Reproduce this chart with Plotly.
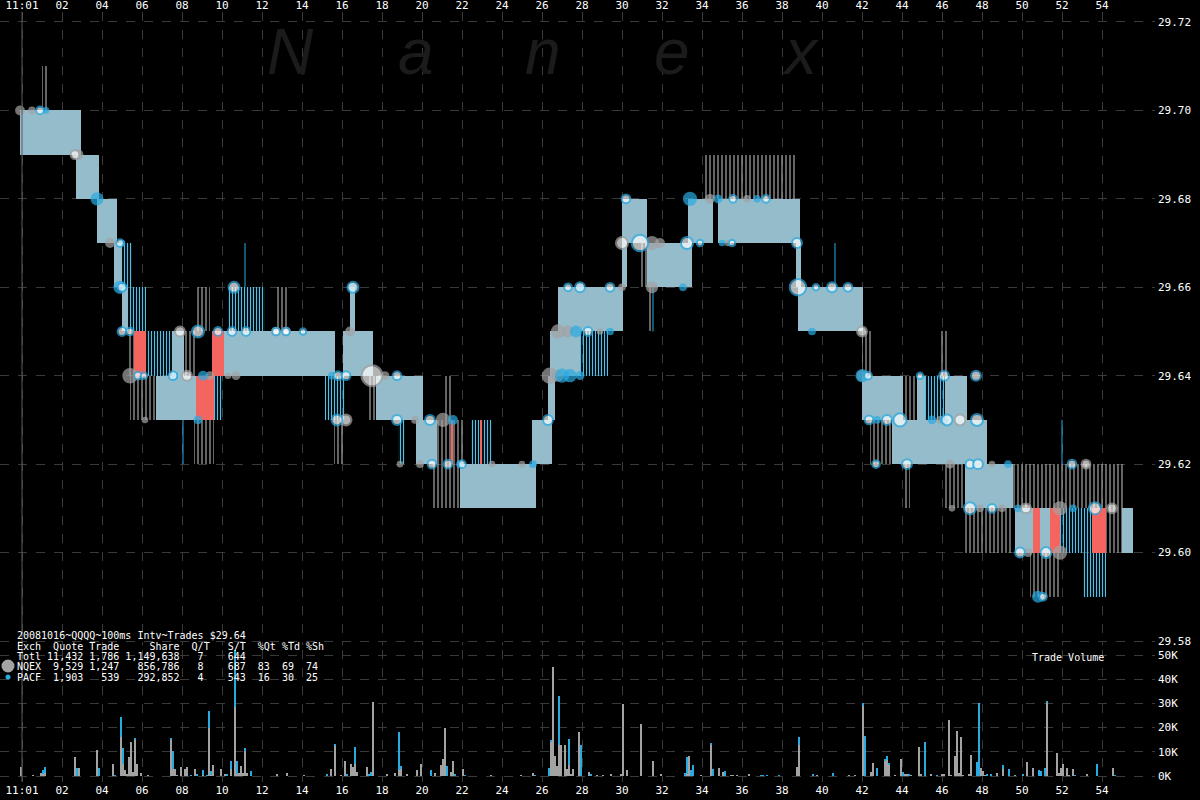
import plotly.graph_objects as go

# ---------------- axis ticks ----------------
time_ticks = list(range(0, 56, 2))
time_tick_text = ["11:01"] + [f"{v:02d}" for v in range(2, 56, 2)]
price_ticks = [29.58, 29.60, 29.62, 29.64, 29.66, 29.68, 29.70, 29.72]
volume_ticks = [0, 10, 20, 30, 40, 50]
volume_tick_text = ["0K", "10K", "20K", "30K", "40K", "50K"]

# ---------------- quote bands (minutes after 11:01, bid, kind) ----------------
band_start = [-0.1, 1.0, 2.7, 3.75, 4.6, 5.0, 5.0, 5.3, 5.3, 5.6, 6.2, 7.5, 8.1, 5.4, 6.7, 8.7, 9.6, 8.6, 8.7, 9.5,
              10.1, 10.3, 11.55, 12.7, 15.15, 15.6, 16.05, 16.4, 17.25, 17.7, 18.8, 19.7, 20.75, 21.1, 21.45, 22.45,
              22.9, 20.55, 21.9, 25.5, 26.3, 26.4, 27.9, 26.8, 30.0, 30.0, 30.9, 31.25, 31.25, 33.3, 34.15, 34.8,
              38.7, 38.8, 42.0, 42.0, 44.05, 44.75, 45.15, 45.9, 46.15, 42.4, 43.5, 44.05, 46.05, 46.05, 47.15,
              47.15, 49.55, 49.65, 50.55, 50.9, 51.4, 51.9, 53.5, 54.2, 55.0, 50.4, 53.05]
band_end = [2.95, 1.3, 3.85, 4.75, 5.0, 5.5, 5.3, 6.2, 5.6, 6.2, 7.5, 8.1, 8.7, 6.7, 8.7, 9.6, 10.05, 9.6, 9.4, 10.1,
            11.55, 12.15, 15.65, 13.25, 16.15, 16.15, 17.55, 16.65, 17.7, 20.05, 19.15, 20.75, 22.05, 21.5, 21.55,
            23.5, 23.0, 21.9, 25.7, 26.5, 26.65, 27.9, 29.3, 30.05, 30.25, 31.25, 31.25, 33.5, 31.55, 34.55, 38.75,
            38.9, 38.95, 42.05, 42.45, 44.05, 44.75, 45.15, 46.15, 46.3, 47.25, 43.5, 46.05, 44.4, 48.25, 47.15,
            49.55, 49.55, 55.05, 50.55, 50.9, 51.4, 51.9, 53.5, 54.2, 55.0, 55.55, 51.85, 54.2]
band_bid = [29.69, 29.70, 29.68, 29.67, 29.66, 29.66, 29.65, 29.65, 29.64, 29.64, 29.64, 29.64, 29.64, 29.63, 29.63,
            29.63, 29.63, 29.62, 29.65, 29.64, 29.64, 29.65, 29.64, 29.65, 29.63, 29.62, 29.64, 29.65, 29.63, 29.63,
            29.62, 29.62, 29.62, 29.63, 29.62, 29.62, 29.62, 29.61, 29.61, 29.62, 29.63, 29.64, 29.64, 29.65, 29.66,
            29.67, 29.66, 29.66, 29.65, 29.67, 29.68, 29.67, 29.66, 29.65, 29.64, 29.63, 29.63, 29.63, 29.63, 29.64,
            29.63, 29.62, 29.62, 29.61, 29.62, 29.61, 29.61, 29.60, 29.61, 29.60, 29.60, 29.60, 29.60, 29.60, 29.60,
            29.60, 29.60, 29.59, 29.59]
band_kind = ["d", "s", "d", "d", "d", "b", "d", "b", "s", "r", "b", "d", "s", "s", "d", "r", "b", "s", "s", "r",
             "d", "b", "d", "s", "b", "s", "d", "d", "s", "d", "b", "d", "s", "s", "r", "b", "r", "s", "d", "d",
             "d", "d", "b", "d", "d", "d", "s", "d", "s", "d", "s", "d", "d", "d", "s", "d", "s", "d", "b", "s",
             "d", "s", "d", "s", "d", "s", "d", "s", "s", "d", "r", "d", "r", "b", "r", "s", "d", "s", "b"]
tick_size = 0.01
band_ask = [round(b + tick_size, 2) for b in band_bid]

# single quote lines reaching an extra tick
spike_t = [8.05, 11.15, 31.55, 40.65, 52.0]
spike_lo = [29.62, 29.66, 29.65, 29.66, 29.62]
spike_hi = [29.63, 29.67, 29.66, 29.67, 29.63]

# ---------------- trades (time, price, shares) ----------------
nqex_t = [-0.1, 0.5, 2.8, 4.4, 5.4, 6.15, 9.4, 10.3, 10.7, 16.4, 18.15, 19.65, 21.05, 18.9, 19.9, 23.5, 25.0, 26.4,
          26.8, 26.8, 27.3, 28.9, 30.0, 31.5, 31.5, 31.9, 34.4, 36.25, 42.0, 45.9, 46.4, 48.5, 46.5, 47.9, 49.0,
          51.9, 50.3, 51.9, 35.3]
nqex_p = [29.70, 29.70, 29.69, 29.67, 29.64, 29.63, 29.64, 29.64, 29.64, 29.65, 29.64, 29.63, 29.63, 29.62, 29.62,
          29.62, 29.62, 29.64, 29.64, 29.65, 29.65, 29.65, 29.66, 29.66, 29.67, 29.67, 29.68, 29.68, 29.64, 29.63,
          29.62, 29.62, 29.61, 29.61, 29.61, 29.61, 29.60, 29.60, 29.67]
nqex_sh = [1600, 400, 2500, 1600, 8100, 100, 900, 100, 900, 1600, 900, 400, 6400, 100, 400, 100, 100, 10000, 3600,
           6400, 3600, 100, 400, 3600, 6400, 1600, 1600, 400, 2500, 400, 900, 100, 100, 400, 400, 6400, 900, 6400,
           100]

pacf_t = [1.2, 3.75, 4.9, 5.0, 9.05, 8.8, 7.6, 15.5, 16.5, 21.55, 21.9, 25.55, 27.0, 27.4, 27.9, 27.7, 29.4, 27.9,
          33.05, 33.4, 34.8, 36.75, 39.5, 42.0, 42.75, 45.5, 46.1, 49.3, 49.8, 52.55, 50.8, 35.0]
pacf_p = [29.70, 29.68, 29.66, 29.67, 29.64, 29.63, 29.64, 29.64, 29.66, 29.63, 29.62, 29.62, 29.64, 29.64, 29.64,
          29.65, 29.65, 29.66, 29.66, 29.68, 29.68, 29.68, 29.65, 29.64, 29.63, 29.63, 29.63, 29.62, 29.61, 29.61,
          29.59, 29.67]
pacf_sh = [100, 4900, 4900, 100, 1600, 900, 400, 400, 900, 1600, 400, 400, 6400, 4900, 900, 3600, 400, 400, 400,
           6400, 900, 400, 400, 4900, 400, 900, 900, 400, 400, 400, 3600, 100]

ringb_t = [0.9, 4.9, 5.0, 5.0, 5.4, 5.8, 6.1, 7.55, 8.8, 9.8, 10.5, 11.2, 12.7, 13.2, 14.05, 10.6, 15.8, 16.2,
           15.75, 16.55, 18.75, 18.75, 20.4, 20.5, 21.3, 22.0, 26.3, 28.3, 27.3, 27.9, 29.4, 30.9, 33.25, 33.9,
           35.5, 30.2, 35.55, 37.2, 38.75, 38.8, 39.7, 40.5, 41.3, 42.3, 44.9, 46.1, 47.7, 42.35, 43.25, 43.9,
           46.25, 47.75, 42.7, 44.25, 47.4, 47.8, 52.5, 47.4, 48.5, 53.65, 49.9, 51.2, 51.05]
ringb_p = [29.70, 29.67, 29.66, 29.65, 29.65, 29.64, 29.64, 29.64, 29.65, 29.65, 29.65, 29.65, 29.65, 29.65, 29.65,
           29.66, 29.64, 29.64, 29.63, 29.66, 29.64, 29.63, 29.63, 29.62, 29.62, 29.62, 29.63, 29.65, 29.66, 29.66,
           29.66, 29.67, 29.67, 29.67, 29.67, 29.68, 29.68, 29.68, 29.67, 29.66, 29.66, 29.66, 29.66, 29.64, 29.64,
           29.64, 29.64, 29.63, 29.63, 29.63, 29.63, 29.63, 29.62, 29.62, 29.62, 29.62, 29.62, 29.61, 29.61, 29.61,
           29.60, 29.60, 29.59]
ringb_sh = [400, 400, 900, 900, 400, 400, 100, 900, 3600, 900, 900, 900, 400, 400, 100, 2500, 900, 900, 2500, 2500,
            900, 1600, 1600, 900, 900, 400, 1600, 900, 400, 1600, 900, 10000, 3600, 100, 100, 900, 400, 400, 1600,
            10000, 100, 1600, 900, 400, 100, 1600, 1600, 900, 1600, 4900, 2500, 3600, 400, 1600, 900, 1600, 900,
            3600, 900, 3600, 1600, 2500, 400]

ringg_t = [2.65, 7.9, 8.25, 17.5, 42.0, 46.9, 16.2, 30.0, 50.2, 54.5, 53.2, 12.7, 13.2]
ringg_p = [29.69, 29.65, 29.64, 29.64, 29.65, 29.63, 29.63, 29.67, 29.61, 29.61, 29.62, 29.65, 29.65]
ringg_sh = [900, 1600, 1600, 19600, 1600, 2500, 2500, 3600, 1600, 1600, 900, 400, 400]

# ---------------- volume per 100ms interval (thousand shares) ----------------
vol_t = [-0.05, 0.55, 0.95, 1.05, 1.15, 2.65, 2.75, 2.85, 3.75, 3.85, 4.55, 4.65, 4.95, 5.05, 5.15, 5.25, 5.35,
         5.45, 5.55, 5.65, 5.75, 5.95, 6.3, 7.45, 7.55, 7.65, 7.75, 7.95, 8.15, 8.25, 8.45, 8.65, 8.75, 9.05, 9.25,
         9.35, 9.45, 9.55, 9.95, 10.15, 10.25, 10.45, 10.65, 10.75, 10.85, 10.95, 11.05, 11.15, 11.25, 11.45,
         12.75, 13.25, 14.1, 15.25, 15.45, 15.65, 15.95, 16.15, 16.25, 16.45, 16.55, 16.65, 16.75, 17.25, 17.35,
         17.45, 17.55, 18.25, 18.65, 18.85, 18.95, 19.25, 19.75, 19.95, 20.45, 20.65, 20.95, 21.05, 21.15, 21.25,
         21.45, 21.55, 21.65, 22.05, 22.15, 23.45, 24.95, 25.55, 25.65, 26.35, 26.45, 26.55, 26.65, 26.75, 26.85,
         26.95, 27.15, 27.25, 27.35, 27.45, 27.55, 27.85, 27.95, 28.35, 28.45, 28.75, 29.05, 29.45, 29.95, 30.05,
         30.25, 30.95, 31.55, 31.95, 33.15, 33.25, 33.35, 33.45, 33.55, 33.95, 34.45, 34.55, 34.85, 35.05, 35.15,
         35.45, 35.55, 35.75, 36.35, 36.95, 37.05, 37.25, 37.85, 38.75, 38.85, 39.55, 39.75, 40.55, 41.35, 41.65,
         42.05, 42.15, 42.45, 42.55, 42.75, 43.15, 43.25, 43.35, 43.65, 43.95, 44.05, 44.15, 44.25, 44.35, 44.45,
         44.85, 44.95, 45.15, 45.45, 45.75, 46.0, 46.1, 46.35, 46.45, 46.65, 46.75, 46.85, 46.95, 47.05, 47.35,
         47.45, 47.75, 47.85, 47.95, 48.05, 48.15, 48.25, 48.45, 48.75, 49.05, 49.35, 49.65, 50.05, 50.25, 50.55,
         50.85, 50.95, 51.15, 51.25, 51.75, 51.85, 51.95, 52.05, 52.25, 52.35, 52.55, 52.65, 53.25, 53.75, 54.55,
         54.65]
vol_nqex = [3.7, 0.3, 1.4, 0.8, 1.4, 7.8, 0, 3.3, 10.9, 0, 5.1, 0, 16.0, 5.1, 2.3, 0.8, 7.8, 14.0, 1.6, 14.7, 5.1,
            1.2, 0.3, 15.0, 2.7, 2.7, 0.3, 3.7, 3.0, 3.7, 0, 3.0, 0, 0.4, 0, 19.8, 0.5, 4.7, 3.0, 1.0, 0, 3.0, 28.5,
            1.0, 1.2, 4.0, 1.2, 10.2, 1.2, 0, 1.0, 1.4, 0.3, 0, 3.0, 12.4, 0.3, 6.0, 0, 5.1, 3.7, 5.1, 1.6, 3.7, 0,
            0, 30.6, 0.5, 1.2, 2.3, 3.0, 1.0, 2.3, 5.1, 0, 1.4, 4.7, 7.1, 20.0, 0, 1.6, 6.0, 0, 3.0, 0, 0.3, 0.3,
            1.4, 0, 0, 14.0, 45.0, 8.3, 4.1, 13.0, 13.0, 13.0, 2.7, 4.4, 1.0, 3.0, 18.2, 0, 1.6, 0, 0.3, 0.3, 1.0,
            1.0, 29.9, 2.6, 21.6, 6.3, 0.5, 0, 0.8, 8.3, 0, 0, 0.3, 12.7, 0, 3.3, 1.6, 0, 0.3, 0.3, 0.3, 1.0, 0, 0,
            0, 0, 3.7, 13.0, 0, 0.3, 0, 0.3, 0.3, 29.0, 0, 1.6, 5.5, 0, 6.5, 6.5, 4.7, 0.3, 6.9, 0, 1.0, 1.0, 0,
            0.3, 12.0, 1.0, 0, 1.0, 0, 1.0, 1.0, 23.0, 0.3, 8.3, 18.5, 1.2, 16.1, 0.3, 1.0, 8.8, 0, 0, 3.3, 1.9,
            0.3, 0, 0, 1.2, 3.0, 0, 0.3, 0, 5.8, 3.3, 0, 0, 0, 30.3, 9.6, 1.4, 3.3, 5.0, 3.3, 0.3, 3.0, 0, 0.5, 0,
            3.3, 0]
vol_pacf = [0, 0, 0, 1.5, 2.3, 0, 3.3, 0, 0, 3.3, 0, 0.3, 8.4, 6.5, 0, 0, 0, 0, 0, 1.0, 0, 0, 0, 0.3, 7.8, 0, 0,
            0, 0, 0, 0.3, 0, 1.0, 2.2, 0.3, 7.2, 1.7, 0, 0, 0, 0.5, 3.3, 23.5, 5.3, 0, 0, 0, 1.5, 0, 1.9, 0, 0, 0,
            1.0, 0, 1.0, 0, 0, 0.5, 0, 0, 7.0, 0, 0, 0.8, 1.6, 0, 0, 0, 15.9, 1.0, 0, 0, 0, 2.6, 0, 0, 0, 0, 4.0,
            0, 0, 0.5, 0, 0.3, 0, 0, 0, 0.3, 3.5, 1.0, 0, 0, 0, 20.0, 0, 0, 0, 11.0, 0, 0, 0, 13.0, 0, 0.5, 0, 0,
            0, 0, 0, 0, 0, 0, 0, 1.4, 7.2, 0, 2.6, 4.7, 0, 1.1, 3.0, 0, 0, 2.2, 0, 0, 0, 0, 0.3, 0.3, 0.3, 0.3, 0,
            3.0, 1.0, 0, 1.2, 0, 0, 1.3, 16.5, 0, 0, 3.3, 0.4, 1.8, 0.3, 0, 0, 1.6, 0, 0, 0.5, 0, 0, 0, 14.0, 0,
            0.3, 0, 0, 0, 0, 0, 0, 0, 0, 0, 0, 0, 5.8, 30.3, 0, 0, 0, 0.5, 0.5, 0, 1.7, 3.0, 0, 1.0, 0, 0, 2.5,
            1.9, 3.3, 0.5, 0, 0, 0, 0, 0, 0, 0, 0.3, 0, 5.0, 0, 0.3]

# ---------------- styling ----------------
BG = "#000000"
GRID = "#3a3a3a"
GRAY = "#a3a3a3"
BLUE = "#29abe2"
RED = "#f4655f"
MONO = "DejaVu Sans Mono"

W, H = 1200, 800
ML, MR, MT, MB = 0, 45, 12, 18
PW, PH = W - ML - MR, H - MT - MB


def px_x(px):
    return (px - ML) / PW


def px_y(py):
    return (H - MB - py) / PH


def msize(shares):
    return 5.5 + 1.1 * (shares / 100) ** 0.5


fig = go.Figure()

band_styles = {
    "s": dict(shape="|", fgcolor="#a8a8a8", bgcolor="rgba(0,0,0,0)", size=4, solidity=0.3, fillmode="replace"),
    "b": dict(shape="|", fgcolor="#4fc0ea", bgcolor="rgba(0,0,0,0)", size=3, solidity=0.4, fillmode="replace"),
    "d": dict(shape="|", fgcolor="#7fcbe8", bgcolor="#a9adaf", size=2, solidity=0.5, fillmode="replace"),
}
for kind in ["s", "b", "d", "r"]:
    idx = [i for i, k in enumerate(band_kind) if k == kind]
    xs = [(band_start[i] + band_end[i]) / 2 for i in idx]
    ws = [band_end[i] - band_start[i] for i in idx]
    bases = [band_bid[i] for i in idx]
    hs = [band_ask[i] - band_bid[i] for i in idx]
    marker = dict(color=RED if kind == "r" else "#a9adaf", line=dict(width=0))
    if kind != "r":
        marker["pattern"] = band_styles[kind]
    fig.add_trace(go.Bar(x=xs, y=hs, base=bases, width=ws, marker=marker, xaxis="x", yaxis="y",
                         showlegend=False, hoverinfo="skip"))

sx, sy = [], []
for t, lo, hi in zip(spike_t, spike_lo, spike_hi):
    sx += [t, t, None]
    sy += [lo, hi, None]
fig.add_trace(go.Scatter(x=sx, y=sy, mode="lines", line=dict(color=BLUE, width=1), xaxis="x", yaxis="y",
                         showlegend=False, hoverinfo="skip"))

fig.add_trace(go.Scatter(x=nqex_t, y=nqex_p, mode="markers", xaxis="x", yaxis="y", showlegend=False,
                         marker=dict(color=GRAY, size=[msize(s) for s in nqex_sh], line=dict(width=0))))
fig.add_trace(go.Scatter(x=pacf_t, y=pacf_p, mode="markers", xaxis="x", yaxis="y", showlegend=False,
                         marker=dict(color=BLUE, size=[msize(s) for s in pacf_sh], line=dict(width=0))))
fig.add_trace(go.Scatter(x=ringg_t, y=ringg_p, mode="markers", xaxis="x", yaxis="y", showlegend=False,
                         marker=dict(color="white", size=[msize(s) for s in ringg_sh],
                                     line=dict(width=2, color=GRAY))))
fig.add_trace(go.Scatter(x=ringb_t, y=ringb_p, mode="markers", xaxis="x", yaxis="y", showlegend=False,
                         marker=dict(color="white", size=[msize(s) for s in ringb_sh],
                                     line=dict(width=2, color=BLUE))))

# volume bars (stacked: NQEX gray below, PACF blue on top)
fig.add_trace(go.Bar(x=vol_t, y=vol_nqex, width=0.1, marker=dict(color=GRAY, line=dict(width=0)),
                     xaxis="x2", yaxis="y2", showlegend=False, hoverinfo="skip"))
fig.add_trace(go.Bar(x=vol_t, y=vol_pacf, base=vol_nqex, width=0.1, marker=dict(color=BLUE, line=dict(width=0)),
                     xaxis="x2", yaxis="y2", showlegend=False, hoverinfo="skip"))

x_range = [-1.1, -1.1 + PW / 20]
price_px_per_unit = 4429.0
price_bottom = 29.58 - (645 - 641) / price_px_per_unit
price_top = 29.72 + (22 - MT) / price_px_per_unit
vol_px_per_k = 2.42
vol_lo = -(H - MB - 776) / vol_px_per_k
vol_hi = 50 + (655 - 650) / vol_px_per_k

tickfont = dict(family=MONO, size=11, color="white")
xcommon = dict(range=x_range, tickvals=time_ticks, ticktext=time_tick_text, showgrid=True, gridcolor=GRID,
               griddash="dash", gridwidth=1, zeroline=False, showline=False, ticks="", tickfont=tickfont,
               fixedrange=True)

fig.update_layout(
    width=W, height=H, paper_bgcolor=BG, plot_bgcolor=BG,
    margin=dict(l=ML, r=MR, t=MT, b=MB),
    barmode="overlay", bargap=0,
    xaxis=dict(anchor="y", side="top", **xcommon),
    xaxis2=dict(anchor="y2", side="bottom", matches="x", **xcommon),
    yaxis=dict(domain=[px_y(645), 1], range=[price_bottom, price_top], side="right", tickvals=price_ticks,
               tickformat=".2f", showgrid=True, gridcolor=GRID, griddash="dash", zeroline=False, ticks="",
               tickfont=tickfont, ticklabelstandoff=2),
    yaxis2=dict(domain=[0, px_y(650)], range=[vol_lo, vol_hi], side="right", tickvals=volume_ticks,
                ticktext=volume_tick_text, showgrid=True, gridcolor=GRID, griddash="dash", zeroline=False,
                ticks="", tickfont=tickfont, ticklabelstandoff=2),
    showlegend=False,
)

# solid start-of-session line
fig.add_shape(type="line", xref="x", yref="paper", x0=0, x1=0, y0=0, y1=1, line=dict(color="#5a5a5a", width=1))

# watermark
for letter, cx in zip("Nanex", [290, 416, 543, 672, 800]):
    fig.add_annotation(text=letter, xref="paper", yref="paper", x=px_x(cx), y=px_y(90), showarrow=False,
                       font=dict(family="Liberation Sans", size=64, color="#1b1b1b", style="italic"),
                       xanchor="center", yanchor="bottom")

legend_lines = [
    "20081016~QQQQ~100ms Intv~Trades $29.64",
    "Exch  Quote Trade     Share  Q/T   S/T  %Qt %Td %Sh",
    "Totl 11,432 1,786 1,149,638   7    644",
    "NQEX  9,529 1,247   856,786   8    687  83  69  74",
    "PACF  1,903   539   292,852   4    543  16  30  25",
]
for line, cy in zip(legend_lines, [635, 646, 656, 666, 677]):
    fig.add_annotation(text=line.replace(" ", "&nbsp;"), xref="paper", yref="paper", x=px_x(15), y=px_y(cy),
                       showarrow=False, xanchor="left", yanchor="middle",
                       font=dict(family=MONO, size=10, color="white"))

fig.add_shape(type="circle", xref="paper", yref="paper", xsizemode="pixel", ysizemode="pixel",
              xanchor=px_x(8), yanchor=px_y(666), x0=-6.5, x1=6.5, y0=-6.5, y1=6.5,
              fillcolor=GRAY, line=dict(width=0))
fig.add_shape(type="circle", xref="paper", yref="paper", xsizemode="pixel", ysizemode="pixel",
              xanchor=px_x(8), yanchor=px_y(677), x0=-2.5, x1=2.5, y0=-2.5, y1=2.5,
              fillcolor=BLUE, line=dict(width=0))

fig.add_annotation(text="Trade Volume", xref="paper", yref="paper", x=px_x(1068), y=px_y(657), showarrow=False,
                   xanchor="center", yanchor="middle", font=dict(family=MONO, size=10, color="white"))

fig.write_html("out.html", config={"displayModeBar": False},
               post_script="document.body.style.margin='0px';")
